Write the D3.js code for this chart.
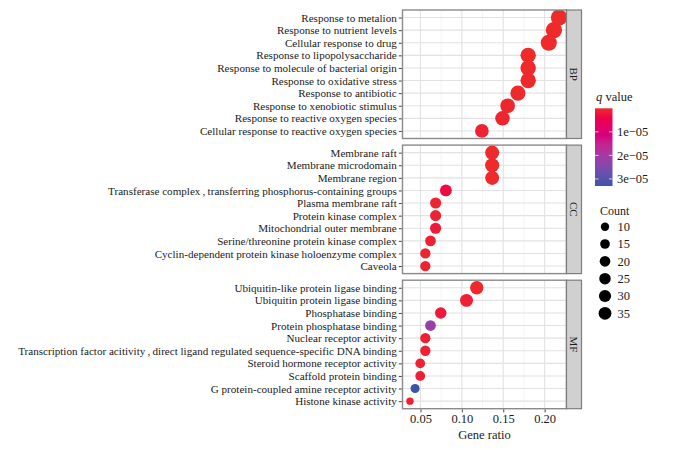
<!DOCTYPE html>
<html>
<head>
<meta charset="utf-8">
<script src="https://cdn.jsdelivr.net/npm/d3@7"></script>
<style>
  body { margin: 0; background: #fff; }
  text { font-family: "Liberation Serif", "Times New Roman", serif; fill: #1a1a1a; }
</style>
</head>
<body>
<svg width="673" height="450"></svg>
<script>
// ---- data ----
const ontologies = ['BP', 'CC', 'MF'];

const bpTerms = ['Response to metalion', 'Response to nutrient levels', 'Cellular response to drug',
  'Response to lipopolysaccharide', 'Response to molecule of bacterial origin', 'Response to oxidative stress',
  'Response to antibiotic', 'Response to xenobiotic stimulus', 'Response to reactive oxygen species',
  'Cellular response to reactive oxygen species'];
const bpRatio = [0.2174, 0.2112, 0.2050, 0.1801, 0.1801, 0.1801, 0.1677, 0.1553, 0.1491, 0.1242];
const bpCount = [35, 34, 33, 29, 29, 29, 27, 25, 24, 20];
const bpQ = [1.2e-9, 3.5e-9, 2.1e-8, 4.6e-8, 5.3e-8, 8.9e-8, 1.5e-7, 3.2e-7, 6.8e-7, 9.4e-7];

const ccTerms = ['Membrane raft', 'Membrane microdomain', 'Membrane region',
  'Transferase complex\u2009,\u2009transferring phosphorus-containing groups', 'Plasma membrane raft',
  'Protein kinase complex', 'Mitochondrial outer membrane', 'Serine/threonine protein kinase complex',
  'Cyclin-dependent protein kinase holoenzyme complex', 'Caveola'];
const ccRatio = [0.1366, 0.1366, 0.1366, 0.0807, 0.0683, 0.0683, 0.0683, 0.0621, 0.0559, 0.0559];
const ccCount = [22, 22, 22, 13, 11, 11, 11, 10, 9, 9];
const ccQ = [2.0e-8, 2.0e-8, 2.6e-8, 3.0e-6, 6.1e-7, 8.3e-7, 1.8e-6, 1.1e-6, 6.5e-7, 9.8e-7];

const mfTerms = ['Ubiquitin-like protein ligase binding', 'Ubiquitin protein ligase binding', 'Phosphatase binding',
  'Protein phosphatase binding', 'Nuclear receptor activity',
  'Transcription factor acitivity\u2009,\u2009direct ligand regulated sequence-specific DNA binding',
  'Steroid hormone receptor activity', 'Scaffold protein binding', 'G protein-coupled amine receptor activity',
  'Histone kinase activity'];
const mfRatio = [0.1180, 0.1056, 0.0745, 0.0621, 0.0559, 0.0559, 0.0497, 0.0497, 0.0435, 0.0373];
const mfCount = [19, 17, 12, 10, 9, 9, 8, 8, 7, 6];
const mfQ = [1.9e-7, 1.1e-6, 2.0e-6, 2.2e-5, 1.0e-6, 1.0e-6, 1.2e-6, 1.3e-6, 3.3e-5, 1.1e-6];

const xTicks = [0.05, 0.10, 0.15, 0.20];
const xMinor = [0.075, 0.125, 0.175, 0.225];
const countBreaks = [10, 15, 20, 25, 30, 35];

// ---- build rows ----
const groups = [
  {id: 'BP', terms: bpTerms, ratio: bpRatio, count: bpCount, q: bpQ},
  {id: 'CC', terms: ccTerms, ratio: ccRatio, count: ccCount, q: ccQ},
  {id: 'MF', terms: mfTerms, ratio: mfRatio, count: mfCount, q: mfQ}
];
groups.forEach(g => {
  g.rows = g.terms.map((t, i) => ({term: t, ratio: g.ratio[i], count: g.count[i], q: g.q[i]}));
});
const all = groups.flatMap(g => g.rows);

const svg = d3.select('svg');

const panelLeft = 402.5, panelRight = 566.5;
const panelTop = 10, panelH = 128.5, panelGap = 6.6;
const stripW = 15;

// x scale: data range expanded by 5% like ggplot
const ext = d3.extent(all, d => d.ratio);
const pad = (ext[1] - ext[0]) * 0.05;
const x = d3.scaleLinear().domain([ext[0] - pad, ext[1] + pad]).range([panelLeft, panelRight]);

// size scale (area-like)
const sizeT = d3.scaleLinear().domain(d3.extent(all, d => d.count)).range([0, 1]);
const rRange = d3.scaleLinear().domain([0, 1]).range([3.7, 8.2]);
const radius = v => rRange(Math.sqrt(sizeT(v)));

// colour scale red -> blue through magenta
const qExt = d3.extent(all, d => d.q);
const color = d3.scaleLinear().domain(qExt).range(['#ee2a2a', '#3a56a8']).interpolate(d3.interpolateHcl);

const defs = svg.append('defs');

groups.forEach((g, gi) => {
  const top = panelTop + gi * (panelH + panelGap);
  const y = d3.scalePoint().domain(g.terms).range([top, top + panelH]).padding(0.6);

  const panel = svg.append('g');
  panel.append('rect')
    .attr('x', panelLeft).attr('y', top)
    .attr('width', panelRight - panelLeft).attr('height', panelH)
    .attr('fill', '#fff');

  // minor grid
  panel.selectAll('.minor').data(xMinor.filter(v => x(v) < panelRight)).enter().append('line')
    .attr('x1', d => x(d)).attr('x2', d => x(d))
    .attr('y1', top).attr('y2', top + panelH)
    .attr('stroke', '#efefef').attr('stroke-width', 0.7);
  // major grid
  panel.selectAll('.major').data(xTicks).enter().append('line')
    .attr('x1', d => x(d)).attr('x2', d => x(d))
    .attr('y1', top).attr('y2', top + panelH)
    .attr('stroke', '#e2e2e2').attr('stroke-width', 1.1);
  panel.selectAll('.hgrid').data(g.terms).enter().append('line')
    .attr('x1', panelLeft).attr('x2', panelRight)
    .attr('y1', d => y(d)).attr('y2', d => y(d))
    .attr('stroke', '#e2e2e2').attr('stroke-width', 1.1);

  // points, clipped to panel
  const clipId = 'clip' + g.id;
  defs.append('clipPath').attr('id', clipId).append('rect')
    .attr('x', panelLeft).attr('y', top)
    .attr('width', panelRight - panelLeft).attr('height', panelH);
  panel.append('g').attr('clip-path', `url(#${clipId})`)
    .selectAll('circle').data(g.rows).enter().append('circle')
      .attr('cx', d => x(d.ratio))
      .attr('cy', d => y(d.term))
      .attr('r', d => radius(d.count))
      .attr('fill', d => color(d.q));

  // border
  panel.append('rect')
    .attr('x', panelLeft).attr('y', top)
    .attr('width', panelRight - panelLeft).attr('height', panelH)
    .attr('fill', 'none').attr('stroke', '#8a8a8a').attr('stroke-width', 1.4);

  // y axis
  const yAxis = svg.append('g')
    .attr('transform', `translate(${panelLeft - 0.7},0)`)
    .call(d3.axisLeft(y).tickSize(3).tickPadding(2));
  yAxis.select('.domain').remove();
  yAxis.selectAll('line').attr('stroke', '#444');
  yAxis.selectAll('text').attr('fill', '#1a1a1a')
    .style('font-family', '"Liberation Serif", serif').style('font-size', '11.1px');

  // strip
  svg.append('rect')
    .attr('x', panelRight).attr('y', top)
    .attr('width', stripW).attr('height', panelH)
    .attr('fill', '#d0d0d0').attr('stroke', '#7e7e7e').attr('stroke-width', 1.2);
  svg.append('text')
    .attr('transform', `translate(${panelRight + stripW / 2},${top + panelH / 2}) rotate(90)`)
    .attr('text-anchor', 'middle').attr('dy', '0.35em')
    .style('font-size', '11px')
    .text(g.id);

  if (gi === groups.length - 1) {
    const xAxis = svg.append('g')
      .attr('transform', `translate(0,${top + panelH + 0.7})`)
      .call(d3.axisBottom(x).tickValues(xTicks).tickSize(3).tickPadding(2).tickFormat(d3.format('.2f')));
    xAxis.select('.domain').remove();
    xAxis.selectAll('line').attr('stroke', '#444');
    xAxis.selectAll('text').attr('fill', '#1a1a1a')
      .style('font-family', '"Liberation Serif", serif').style('font-size', '12.5px');
    svg.append('text')
      .attr('x', (panelLeft + panelRight) / 2).attr('y', 438.5)
      .attr('text-anchor', 'middle').style('font-size', '12.5px')
      .text('Gene ratio');
  }
});

// ---- q value legend ----
const qTitle = svg.append('text').attr('x', 596).attr('y', 100.5).style('font-size', '12.5px');
qTitle.append('tspan').style('font-style', 'italic').text('q');
qTitle.append('tspan').text(' value');

const barX = 595, barW = 17.5, barTop = 108.3, barBot = 186;
const barY = d3.scaleLinear().domain(qExt).range([barTop, barBot]);
const grad = defs.append('linearGradient').attr('id', 'qgrad')
  .attr('x1', 0).attr('y1', 0).attr('x2', 0).attr('y2', 1);
d3.range(0, 1.0001, 0.05).forEach(t => {
  grad.append('stop').attr('offset', t)
    .attr('stop-color', color(qExt[0] + t * (qExt[1] - qExt[0])));
});
svg.append('rect').attr('x', barX).attr('y', barTop)
  .attr('width', barW).attr('height', barBot - barTop).attr('fill', 'url(#qgrad)');

const qFmt = d => {
  const e = Math.floor(Math.log10(d) + 1e-9);
  const m = Math.round(d / Math.pow(10, e));
  return `${m}e\u2212${String(-e).padStart(2, '0')}`;
};
const qTicks = barY.ticks(4);
svg.selectAll('.qtick').data(qTicks).enter().append('g').each(function(d) {
  const gg = d3.select(this);
  gg.append('line').attr('x1', barX).attr('x2', barX + 3.5)
    .attr('y1', barY(d)).attr('y2', barY(d)).attr('stroke', '#fff').attr('stroke-opacity', 0.7);
  gg.append('line').attr('x1', barX + barW - 3.5).attr('x2', barX + barW)
    .attr('y1', barY(d)).attr('y2', barY(d)).attr('stroke', '#fff').attr('stroke-opacity', 0.7);
  gg.append('text').attr('x', 617).attr('y', barY(d)).attr('dy', '0.35em')
    .style('font-size', '12.5px').text(qFmt(d));
});

// ---- count legend ----
svg.append('text').attr('x', 600).attr('y', 215).style('font-size', '12px').text('Count');
const keyY = d3.scalePoint().domain(countBreaks).range([226.7, 313.3]);
const keys = svg.selectAll('.ckey').data(countBreaks).enter().append('g');
keys.append('circle')
  .attr('cx', 605).attr('cy', d => keyY(d))
  .attr('r', d => radius(d) * 0.78)
  .attr('fill', '#000');
keys.append('text')
  .attr('x', 617.5).attr('y', d => keyY(d)).attr('dy', '0.35em')
  .style('font-size', '12.5px').text(d => d);
</script>
</body>
</html>
